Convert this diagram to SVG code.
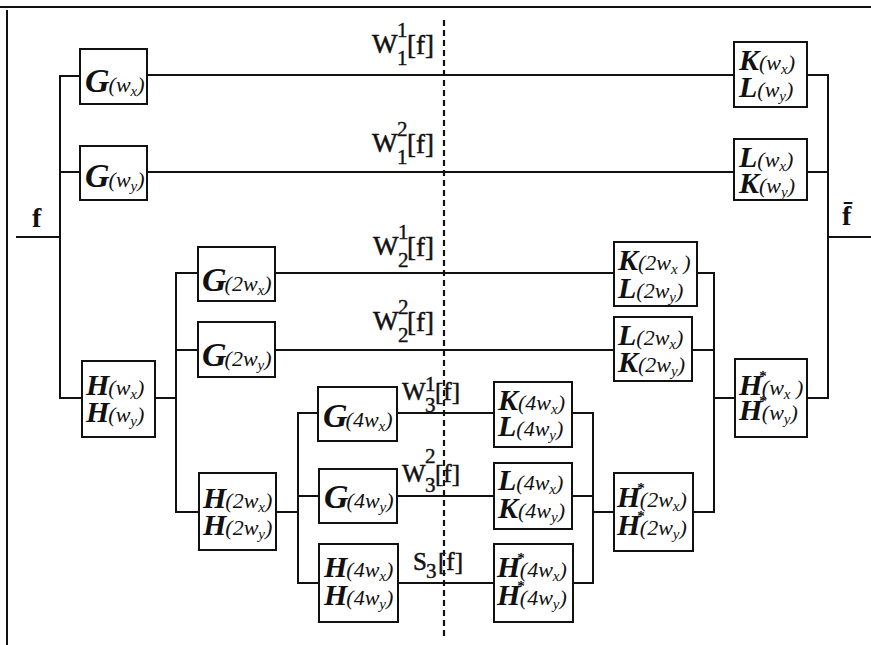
<svg xmlns="http://www.w3.org/2000/svg" width="871" height="645" viewBox="0 0 871 645">
  <style>
    .bg { fill: #ffffff; }
    .box { fill: #ffffff; stroke: #111; stroke-width: 2; }
    .wire { fill: none; stroke: #111; stroke-width: 2; }
    .cut { fill: none; stroke: #111; stroke-width: 2.2; stroke-dasharray: 6 4; }
    text { font-family: "Liberation Serif", "Times New Roman", serif; fill: #111; }
    .c { font-size: 34px; font-style: italic; font-weight: bold; }
    .c2 { font-size: 30px; font-style: italic; font-weight: bold; }
    .a { font-size: 22px; font-style: italic; }
    .s { font-size: 15px; font-style: italic; }
    .st { font-size: 15px; font-weight: bold; }
    .lab { font-size: 27px; stroke: #111; stroke-width: 0.5; }
    .lab3 { font-size: 25px; stroke: #111; stroke-width: 0.5; }
    .idx { font-size: 21px; stroke: #111; stroke-width: 0.4; }
    .io { font-size: 28px; font-weight: bold; }
  </style>

  <rect class="bg" x="0" y="0" width="871" height="645"/>

  <!-- frame -->
  <g id="frame">
    <line class="wire" x1="0" y1="7" x2="871" y2="7"/>
    <line class="wire" x1="7" y1="10" x2="7" y2="645"/>
  </g>

  <!-- connectors -->
  <g id="connectors">
    <!-- input and first split -->
    <polyline class="wire" points="16,237 60,237"/>
    <polyline class="wire" points="80,76 60,76 60,398 82,398"/>
    <line class="wire" x1="60" y1="172" x2="80" y2="172"/>
    <!-- level 1 channels -->
    <line class="wire" x1="147" y1="75" x2="734" y2="75"/>
    <line class="wire" x1="147" y1="172" x2="734" y2="172"/>
    <!-- second split -->
    <polyline class="wire" points="155,398 176,398"/>
    <polyline class="wire" points="198,273 176,273 176,512 199,512"/>
    <line class="wire" x1="176" y1="350" x2="198" y2="350"/>
    <!-- level 2 channels -->
    <line class="wire" x1="275" y1="273" x2="614" y2="273"/>
    <line class="wire" x1="275" y1="350" x2="614" y2="350"/>
    <!-- third split -->
    <polyline class="wire" points="276,512 298,512"/>
    <polyline class="wire" points="318,413 298,413 298,583 319,583"/>
    <line class="wire" x1="298" y1="496" x2="319" y2="496"/>
    <!-- level 3 channels -->
    <line class="wire" x1="397" y1="413" x2="494" y2="413"/>
    <line class="wire" x1="397" y1="496" x2="494" y2="496"/>
    <line class="wire" x1="398" y1="583" x2="494" y2="583"/>
    <!-- level 3 merge -->
    <polyline class="wire" points="572,413 593,413 593,583 573,583"/>
    <line class="wire" x1="572" y1="496" x2="593" y2="496"/>
    <line class="wire" x1="593" y1="512" x2="614" y2="512"/>
    <!-- level 2 merge -->
    <polyline class="wire" points="697,273 714,273 714,512 693,512"/>
    <line class="wire" x1="692" y1="350" x2="714" y2="350"/>
    <line class="wire" x1="714" y1="398" x2="735" y2="398"/>
    <!-- level 1 merge and output -->
    <polyline class="wire" points="807,75 828,75 828,398 807,398"/>
    <line class="wire" x1="807" y1="172" x2="828" y2="172"/>
    <line class="wire" x1="828" y1="237" x2="871" y2="237"/>
    <!-- cut line -->
    <line class="cut" x1="444" y1="20" x2="444" y2="637"/>
  </g>

  <!-- signal labels -->
  <g id="labels">
    <text x="32" y="227" class="io">f</text>
    <text x="842" y="225" class="io">f&#x0304;</text>

    <text x="372" y="53" class="lab">W</text>
    <text x="397" y="37" class="idx">1</text>
    <text x="397" y="65" class="idx">1</text>
    <text x="407" y="54" class="lab">[f]</text>

    <text x="372" y="152" class="lab">W</text>
    <text x="397" y="136" class="idx">2</text>
    <text x="397" y="164" class="idx">1</text>
    <text x="407" y="153" class="lab">[f]</text>

    <text x="373" y="255" class="lab">W</text>
    <text x="398" y="239" class="idx">1</text>
    <text x="398" y="267" class="idx">2</text>
    <text x="407" y="256" class="lab">[f]</text>

    <text x="373" y="330" class="lab">W</text>
    <text x="398" y="314" class="idx">2</text>
    <text x="398" y="342" class="idx">2</text>
    <text x="407" y="331" class="lab">[f]</text>

    <text x="402" y="400" class="lab3">W</text>
    <text x="425" y="391" class="idx">1</text>
    <text x="425" y="412" class="idx">3</text>
    <text x="435" y="400" class="lab3">[f]</text>

    <text x="402" y="482" class="lab3">W</text>
    <text x="425" y="463" class="idx">2</text>
    <text x="425" y="492" class="idx">3</text>
    <text x="435" y="482" class="lab3">[f]</text>

    <text x="413" y="570" class="lab3">S</text>
    <text x="426" y="578" class="idx">3</text>
    <text x="438" y="570" class="lab3">[f]</text>
  </g>

  <!-- analysis filters -->
  <g id="G_wx">
    <rect class="box" x="80" y="49" width="67" height="55"/>
    <text x="85" y="92"><tspan class="c">G</tspan><tspan class="a" dx="-1">(w</tspan><tspan class="s" dy="4">x</tspan><tspan class="a" dy="-4">)</tspan></text>
  </g>
  <g id="G_wy">
    <rect class="box" x="80" y="146" width="67" height="54"/>
    <text x="85" y="187"><tspan class="c">G</tspan><tspan class="a" dx="-1">(w</tspan><tspan class="s" dy="4">y</tspan><tspan class="a" dy="-4">)</tspan></text>
  </g>
  <g id="H_w">
    <rect class="box" x="82" y="361" width="73" height="76"/>
    <text x="86" y="395"><tspan class="c2">H</tspan><tspan class="a" dx="-1">(w</tspan><tspan class="s" dy="4">x</tspan><tspan class="a" dy="-4">)</tspan></text>
    <text x="86" y="422"><tspan class="c2">H</tspan><tspan class="a" dx="-1">(w</tspan><tspan class="s" dy="4">y</tspan><tspan class="a" dy="-4">)</tspan></text>
  </g>
  <g id="G_2wx">
    <rect class="box" x="198" y="247" width="77" height="54"/>
    <text x="202" y="291"><tspan class="c">G</tspan><tspan class="a" dx="-2">(2w</tspan><tspan class="s" dy="4">x</tspan><tspan class="a" dy="-4">)</tspan></text>
  </g>
  <g id="G_2wy">
    <rect class="box" x="198" y="322" width="77" height="55"/>
    <text x="202" y="366"><tspan class="c">G</tspan><tspan class="a" dx="-2">(2w</tspan><tspan class="s" dy="4">y</tspan><tspan class="a" dy="-4">)</tspan></text>
  </g>
  <g id="H_2w">
    <rect class="box" x="199" y="473" width="77" height="77"/>
    <text x="203" y="508"><tspan class="c2">H</tspan><tspan class="a" dx="-1">(2w</tspan><tspan class="s" dy="4">x</tspan><tspan class="a" dy="-4">)</tspan></text>
    <text x="203" y="535"><tspan class="c2">H</tspan><tspan class="a" dx="-1">(2w</tspan><tspan class="s" dy="4">y</tspan><tspan class="a" dy="-4">)</tspan></text>
  </g>
  <g id="G_4wx">
    <rect class="box" x="318" y="387" width="79" height="54"/>
    <text x="323" y="427"><tspan class="c">G</tspan><tspan class="a" dx="-2">(4w</tspan><tspan class="s" dy="4">x</tspan><tspan class="a" dy="-4">)</tspan></text>
  </g>
  <g id="G_4wy">
    <rect class="box" x="319" y="469" width="78" height="54"/>
    <text x="324" y="508"><tspan class="c">G</tspan><tspan class="a" dx="-2">(4w</tspan><tspan class="s" dy="4">y</tspan><tspan class="a" dy="-4">)</tspan></text>
  </g>
  <g id="H_4w">
    <rect class="box" x="319" y="544" width="79" height="78"/>
    <text x="324" y="577"><tspan class="c2">H</tspan><tspan class="a" dx="-1">(4w</tspan><tspan class="s" dy="4">x</tspan><tspan class="a" dy="-4">)</tspan></text>
    <text x="324" y="605"><tspan class="c2">H</tspan><tspan class="a" dx="-1">(4w</tspan><tspan class="s" dy="4">y</tspan><tspan class="a" dy="-4">)</tspan></text>
  </g>

  <!-- synthesis filters -->
  <g id="KL_w">
    <rect class="box" x="734" y="42" width="73" height="65"/>
    <text x="739" y="70"><tspan class="c2">K</tspan><tspan class="a">(w</tspan><tspan class="s" dy="4">x</tspan><tspan class="a" dy="-4">)</tspan></text>
    <text x="739" y="97"><tspan class="c2">L</tspan><tspan class="a">(w</tspan><tspan class="s" dy="4">y</tspan><tspan class="a" dy="-4">)</tspan></text>
  </g>
  <g id="LK_w">
    <rect class="box" x="734" y="139" width="73" height="61"/>
    <text x="739" y="167"><tspan class="c2">L</tspan><tspan class="a">(w</tspan><tspan class="s" dy="4">x</tspan><tspan class="a" dy="-4">)</tspan></text>
    <text x="739" y="193"><tspan class="c2">K</tspan><tspan class="a">(w</tspan><tspan class="s" dy="4">y</tspan><tspan class="a" dy="-4">)</tspan></text>
  </g>
  <g id="Hs_w">
    <rect class="box" x="735" y="359" width="72" height="78"/>
    <text x="739" y="395"><tspan class="c2">H</tspan><tspan class="st" dx="-3" dy="-14">*</tspan><tspan class="a" dx="-5" dy="14">(w</tspan><tspan class="s" dy="4">x</tspan><tspan class="a" dy="-4"> )</tspan></text>
    <text x="739" y="420"><tspan class="c2">H</tspan><tspan class="st" dx="-3" dy="-14">*</tspan><tspan class="a" dx="-5" dy="14">(w</tspan><tspan class="s" dy="4">y</tspan><tspan class="a" dy="-4">)</tspan></text>
  </g>
  <g id="KL_2w">
    <rect class="box" x="614" y="242" width="83" height="64"/>
    <text x="618" y="270"><tspan class="c2">K</tspan><tspan class="a">(2w</tspan><tspan class="s" dy="4">x</tspan><tspan class="a" dy="-4"> )</tspan></text>
    <text x="618" y="298"><tspan class="c2">L</tspan><tspan class="a">(2w</tspan><tspan class="s" dy="4">y</tspan><tspan class="a" dy="-4">)</tspan></text>
  </g>
  <g id="LK_2w">
    <rect class="box" x="614" y="317" width="78" height="64"/>
    <text x="618" y="345"><tspan class="c2">L</tspan><tspan class="a">(2w</tspan><tspan class="s" dy="4">x</tspan><tspan class="a" dy="-4">)</tspan></text>
    <text x="618" y="372"><tspan class="c2">K</tspan><tspan class="a">(2w</tspan><tspan class="s" dy="4">y</tspan><tspan class="a" dy="-4">)</tspan></text>
  </g>
  <g id="Hs_2w">
    <rect class="box" x="614" y="473" width="79" height="78"/>
    <text x="617" y="507"><tspan class="c2">H</tspan><tspan class="st" dx="-3" dy="-14">*</tspan><tspan class="a" dx="-5" dy="14">(2w</tspan><tspan class="s" dy="4">x</tspan><tspan class="a" dy="-4">)</tspan></text>
    <text x="617" y="535"><tspan class="c2">H</tspan><tspan class="st" dx="-3" dy="-14">*</tspan><tspan class="a" dx="-5" dy="14">(2w</tspan><tspan class="s" dy="4">y</tspan><tspan class="a" dy="-4">)</tspan></text>
  </g>
  <g id="KL_4w">
    <rect class="box" x="494" y="382" width="78" height="65"/>
    <text x="498" y="410"><tspan class="c2">K</tspan><tspan class="a">(4w</tspan><tspan class="s" dy="4">x</tspan><tspan class="a" dy="-4">)</tspan></text>
    <text x="498" y="436"><tspan class="c2">L</tspan><tspan class="a">(4w</tspan><tspan class="s" dy="4">y</tspan><tspan class="a" dy="-4">)</tspan></text>
  </g>
  <g id="LK_4w">
    <rect class="box" x="494" y="463" width="78" height="66"/>
    <text x="498" y="490"><tspan class="c2">L</tspan><tspan class="a">(4w</tspan><tspan class="s" dy="4">x</tspan><tspan class="a" dy="-4">)</tspan></text>
    <text x="498" y="518"><tspan class="c2">K</tspan><tspan class="a">(4w</tspan><tspan class="s" dy="4">y</tspan><tspan class="a" dy="-4">)</tspan></text>
  </g>
  <g id="Hs_4w">
    <rect class="box" x="494" y="544" width="79" height="78"/>
    <text x="497" y="577"><tspan class="c2">H</tspan><tspan class="st" dx="-3" dy="-14">*</tspan><tspan class="a" dx="-5" dy="14">(4w</tspan><tspan class="s" dy="4">x</tspan><tspan class="a" dy="-4">)</tspan></text>
    <text x="497" y="605"><tspan class="c2">H</tspan><tspan class="st" dx="-3" dy="-14">*</tspan><tspan class="a" dx="-5" dy="14">(4w</tspan><tspan class="s" dy="4">y</tspan><tspan class="a" dy="-4">)</tspan></text>
  </g>
</svg>
